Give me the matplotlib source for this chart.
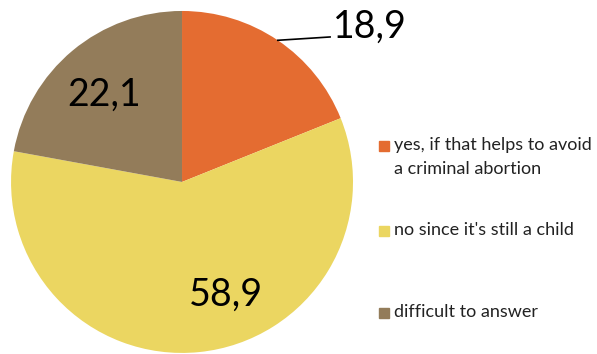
import numpy as np
import matplotlib.pyplot as plt
from matplotlib.patches import Rectangle

plt.rcParams['font.family'] = ['Lato', 'DejaVu Sans']

# data
categories = ["yes, if that helps to avoid\na criminal abortion",
              "no since it's still a child",
              "difficult to answer"]
values = [18.9, 58.9, 22.1]
value_labels = ["18,9", "58,9", "22,1"]
colors = ['#E46C31', '#EBD661', '#937C5A']

fig = plt.figure(figsize=(5.97, 3.54), dpi=100)
ax = fig.add_axes([0.0184, 0.003, 0.573, 0.966])
wedges, _ = ax.pie(values, colors=colors, startangle=90, counterclock=False,
                   radius=1.0, wedgeprops=dict(linewidth=0))
ax.set_xlim(-1, 1)
ax.set_ylim(-1, 1)
ax.set_aspect('equal')

# value labels
# first slice: outside with leader line
w = wedges[0]
mid = np.deg2rad((w.theta1 + w.theta2) / 2)
ax.plot([np.cos(mid), 0.866], [np.sin(mid), 0.848], color='black', lw=1.2)
ax.text(0.88, 0.906, value_labels[0], fontsize=27, va='center', ha='left')
ax.text(0.257, -0.661, value_labels[1], fontsize=27, va='center', ha='center')
ax.text(-0.456, 0.509, value_labels[2], fontsize=27, va='center', ha='center')

# legend drawn by hand
W, H = 597.0, 354.0
leg_y = [146, 231, 313]
for c, lab, y in zip(colors, categories, leg_y):
    fig.patches.append(Rectangle((379 / W, 1 - (y + 5) / H), 10 / W, 10 / H,
                                 transform=fig.transFigure, color=c))
    fig.text(394 / W, 1 - (y - 9) / H, lab, fontsize=13, va='top', ha='left',
             color='#222222', linespacing=1.65)

plt.savefig('out.png', dpi=100)
